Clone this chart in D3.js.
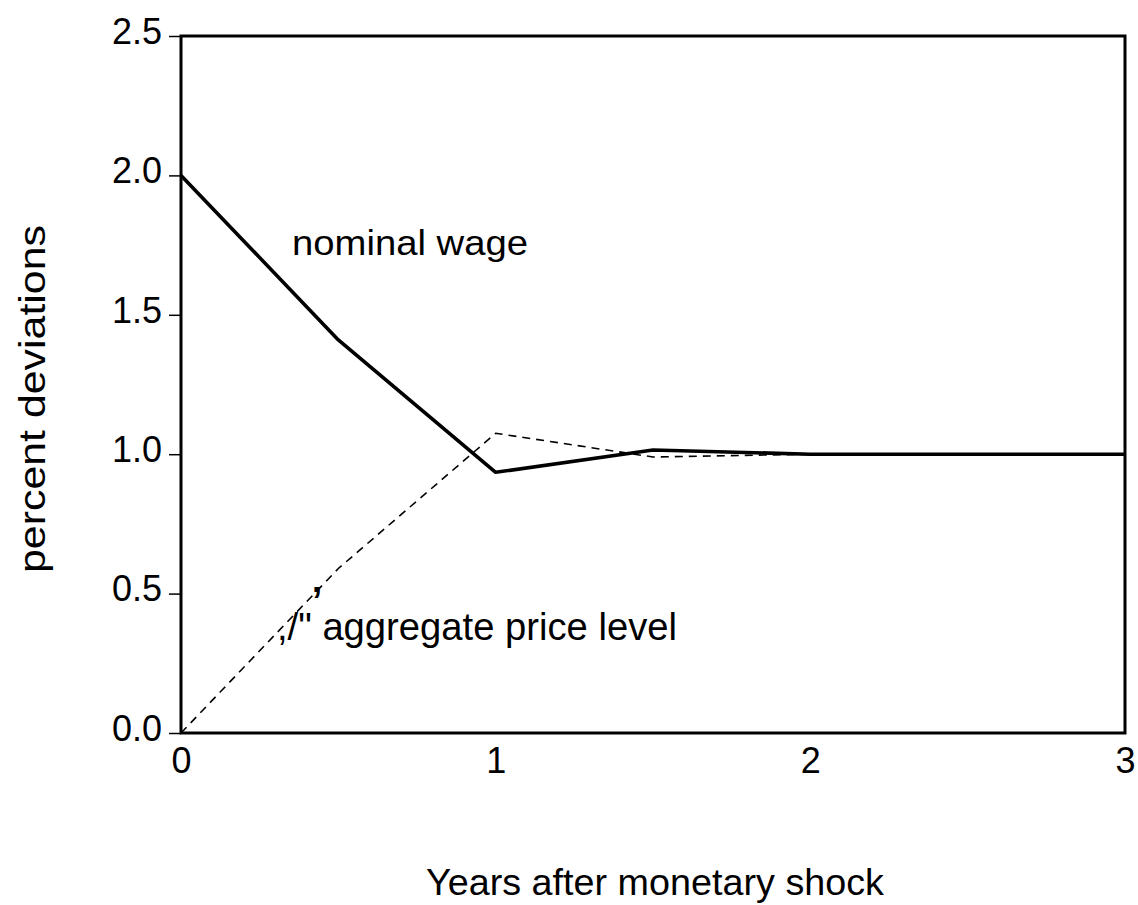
<!DOCTYPE html>
<html>
<head>
<meta charset="utf-8">
<script src="https://cdn.jsdelivr.net/npm/d3@7"></script>
<style>
  body { margin: 0; background: #fff; }
  text { font-family: "Liberation Sans", Arial, sans-serif; fill: #000; }
</style>
</head>
<body>
<div class="chart_wrapper"></div>
<script>
// values
const years = [0, 0.5, 1, 1.5, 2, 2.5, 3]
const nominalWage = [2.0, 1.41, 0.935, 1.015, 1.0, 1.0, 1.0]
const priceLevel = [0, 0.59, 1.075, 0.99, 1.0, 1.0, 1.0]
const yTicks = [0, 0.5, 1.0, 1.5, 2.0, 2.5]
const xTicks = [0, 1, 2, 3]

function drawChart () {

  let dimensions = {
    width: 1138,
    height: 905,
    margin: {
      top: 36,
      right: 13,
      bottom: 172,
      left: 181,
    },
  }
  dimensions.boundedWidth = dimensions.width
    - dimensions.margin.left
    - dimensions.margin.right
  dimensions.boundedHeight = dimensions.height
    - dimensions.margin.top
    - dimensions.margin.bottom

  const wrapper = d3.select(".chart_wrapper")
    .append("svg")
      .attr("width", dimensions.width)
      .attr("height", dimensions.height)

  const bounds = wrapper.append("g")
    .attr("transform", `translate(${dimensions.margin.left},${dimensions.margin.top})`)

  const xScale = d3.scaleLinear()
    .domain([0, 3])
    .range([0, dimensions.boundedWidth])

  const yScale = d3.scaleLinear()
    .domain([0, 2.5])
    .range([dimensions.boundedHeight, 0])

  // y axis, ticks sticking out to the left
  const yAxis = d3.axisLeft(yScale)
    .tickValues(yTicks)
    .tickFormat(d3.format(".1f"))
    .tickSize(12)
    .tickPadding(7)

  const yAxisGroup = bounds.append("g").call(yAxis)
  yAxisGroup.select(".domain").remove()
  yAxisGroup.selectAll("line").attr("stroke-width", 1.5)
  yAxisGroup.selectAll("text")
    .attr("dy", "0.2em")
    .style("font-size", "36px")

  const xAxis = d3.axisBottom(xScale)
    .tickValues(xTicks)
    .tickFormat(d3.format("d"))
    .tickSize(0)
    .tickPadding(14)

  const xAxisGroup = bounds.append("g")
    .attr("transform", `translate(0,${dimensions.boundedHeight})`)
    .call(xAxis)
  xAxisGroup.select(".domain").remove()
  xAxisGroup.selectAll("text").style("font-size", "36px")

  // frame
  bounds.append("rect")
    .attr("x", 0)
    .attr("y", 0)
    .attr("width", dimensions.boundedWidth)
    .attr("height", dimensions.boundedHeight)
    .attr("fill", "none")
    .attr("stroke", "#000")
    .attr("stroke-width", 3)

  const lineGen = values => d3.line()
    .x((d, i) => xScale(years[i]))
    .y(d => yScale(d))(values)

  bounds.append("path")
    .attr("d", lineGen(priceLevel))
    .attr("fill", "none")
    .attr("stroke", "#000")
    .attr("stroke-width", 1.6)
    .attr("stroke-dasharray", "8,6")

  bounds.append("path")
    .attr("d", lineGen(nominalWage))
    .attr("fill", "none")
    .attr("stroke", "#000")
    .attr("stroke-width", 3.6)
    .attr("stroke-linejoin", "round")

  // in-plot labels
  bounds.append("text")
    .attr("x", xScale(0.353))
    .attr("y", yScale(1.714))
    .attr("textLength", 236)
    .attr("lengthAdjust", "spacingAndGlyphs")
    .style("font-size", "35px")
    .text("nominal wage")

  const priceLabel = bounds.append("text")
    .attr("x", xScale(0.305))
    .attr("y", yScale(0.334))
    .attr("textLength", 400)
    .attr("lengthAdjust", "spacingAndGlyphs")
    .style("font-size", "38px")
  priceLabel.append("tspan").text(",/\"")
  priceLabel.append("tspan")
    .attr("dy", -26)
    .style("font-weight", "bold")
    .text("’")
  priceLabel.append("tspan")
    .attr("dy", 26)
    .text("aggregate price level")

  // axis titles
  wrapper.append("text")
    .attr("x", 426)
    .attr("y", 895)
    .attr("textLength", 458)
    .attr("lengthAdjust", "spacingAndGlyphs")
    .style("font-size", "37px")
    .text("Years after monetary shock")

  wrapper.append("text")
    .attr("transform", "translate(45,399) rotate(-90)")
    .attr("text-anchor", "middle")
    .attr("textLength", 348)
    .attr("lengthAdjust", "spacingAndGlyphs")
    .style("font-size", "36px")
    .text("percent deviations")
}
drawChart()
</script>
</body>
</html>
